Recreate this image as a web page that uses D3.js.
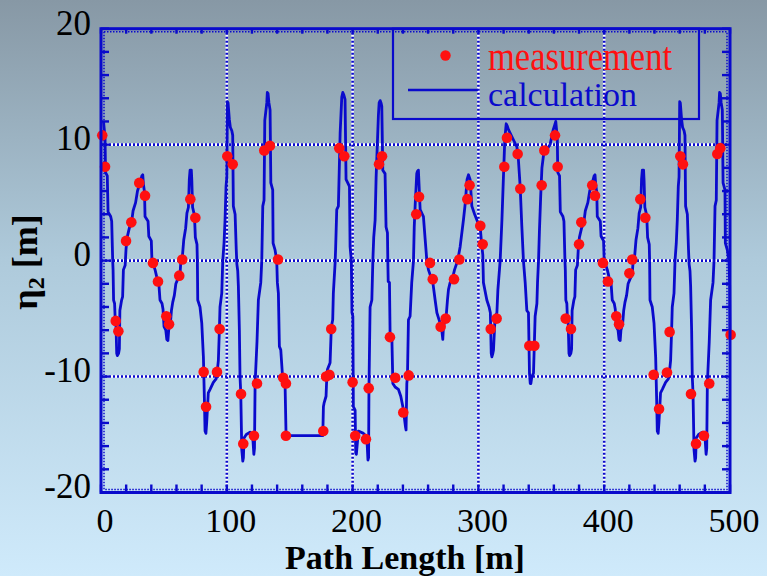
<!DOCTYPE html>
<html>
<head>
<meta charset="utf-8">
<script src="https://cdn.jsdelivr.net/npm/d3@7"></script>
<style>
  html, body { margin: 0; padding: 0; }
  body { width: 767px; height: 576px; overflow: hidden; }
  svg { display: block; }
</style>
</head>
<body>
<svg id="chart" width="767" height="576"></svg>
<script>
// ---------------- DATA ----------------
const xTicks = [0, 100, 200, 300, 400, 500];
const yTicks = [-20, -10, 0, 10, 20];
const xMinor = d3.range(0, 501, 20);
const yMinor = d3.range(-20, 21, 2);

const legendLabels = ["measurement", "calculation"];
const xTitle = "Path Length [m]";

// measurement (red dots)
const measS = [1.0,3.2,11.7,13.8,19.9,24.1,30.4,35.0,41.3,45.3,51.9,54.1,62.2,64.6,71.0,75.0,81.6,83.5,92.2,94.3,
  100.4,104.7,111.3,113.1,121.6,124.0,129.8,134.3,140.7,144.9,147.0,147.0,176.7,178.9,181.5,183.0,189.4,193.4,
  200.0,202.1,210.6,212.8,221.0,223.4,229.7,233.9,240.3,244.6,250.6,252.8,261.5,263.7,270.0,274.0,280.6,284.8,
  291.2,293.0,301.5,303.4,309.8,314.5,320.6,322.7,331.2,333.3,340.5,344.5,350.3,352.4,360.9,363.0,369.4,373.6,
  380.0,381.8,390.5,392.7,399.0,403.0,409.6,411.8,420.0,422.3,428.7,432.7,439.3,443.6,449.9,452.0,460.5,462.6,
  469.0,473.0,479.3,483.5,489.9,492.3,500.5];
const measEta = [10.8,8.1,-5.2,-6.1,1.7,3.3,6.7,5.6,-0.2,-1.8,-4.8,-5.5,-1.3,0.1,5.3,3.7,-9.6,-12.6,-9.6,-5.9,
  9.0,8.3,-11.5,-15.8,-15.1,-10.6,9.5,9.9,0.1,-10.1,-10.6,-15.1,-14.7,-10.0,-9.85,-5.9,9.7,9.0,
  -10.5,-15.1,-15.4,-11.0,8.3,9.0,-6.6,-10.1,-13.1,-9.9,4.0,5.5,-0.2,-1.6,-5.7,-5.0,-1.6,0.1,
  5.3,6.5,3.0,1.4,-5.9,-5.0,8.1,10.6,9.2,6.2,-7.35,-7.35,6.5,9.5,10.8,8.1,-5.0,-5.9,
  1.4,3.3,6.5,5.6,-0.2,-1.8,-4.8,-5.5,-1.1,0.1,5.3,3.7,-9.85,-12.8,-9.65,-6.15,9.0,8.3,
  -11.5,-15.8,-15.1,-10.6,9.2,9.7,-6.4];

// calculation (blue line)
const calcS = [2.0,3.2,3.6,5.0,5.6,7.7,8.5,9.3,9.6,10.0,10.8,11.2,11.8,12.5,13.0,14.0,14.6,15.0,16.4,17.2,17.8,19.2,19.9,20.8,22.5,24.3,25.5,27.5,29.0,31.0,32.5,33.2,33.7,34.6,35.0,37.4,38.0,40.0,40.5,41.5,
  43.0,44.3,46.0,46.9,48.5,49.3,50.1,51.5,52.3,53.2,53.8,55.2,56.0,57.0,58.3,59.5,61.0,62.8,63.5,64.8,65.8,67.3,68.3,69.5,70.2,70.8,71.8,72.2,72.8,74.3,75.0,76.3,76.6,76.9,78.7,80.1,81.4,82.2,82.7,83.4,84.0,85.3,86.7,89.3,91.5,92.0,93.3,94.1,94.6,96.0,96.8,97.8,98.6,99.4,100.0,100.3,100.5,101.0,102.0,102.8,104.0,104.7,105.2,106.6,107.5,108.0,108.7,109.2,110.0,110.5,111.1,111.9,112.7,113.2,113.7,115.5,118.5,120.2,120.8,121.5,122.0,122.5,124.0,125.1,127.0,127.8,128.6,129.6,130.2,131.8,132.2,132.8,133.5,134.4,135.0,136.5,136.8,138.4,139.7,140.2,141.0,141.8,142.9,144.5,146.3,147.1,147.5,
  176.3,176.8,177.3,178.9,179.5,180.0,182.1,183.1,184.2,184.7,186.1,186.5,187.4,188.7,190.1,191.4,192.2,193.0,194.0,194.8,197.5,198.0,199.0,199.5,200.2,200.6,202.0,202.5,203.0,204.6,208.6,211.3,212.2,212.7,213.0,213.9,215.3,216.1,216.8,217.9,218.7,220.5,221.1,221.9,222.6,223.2,224.0,225.8,226.6,227.7,228.0,228.3,229.3,229.8,231.2,232.0,233.8,236.4,238.3,240.3,242.0,242.5,243.1,243.6,244.4,245.7,247.0,248.4,249.0,249.7,251.0,251.5,252.3,253.7,256.3,257.7,259.0,260.3,263.8,265.6,267.0,269.0,270.5,271.7,272.2,274.4,275.4,276.2,277.5,279.5,281.0,283.5,285.5,288.1,289.5,291.0,292.1,293.4,294.8,297.0,299.5,301.5,302.5,303.5,304.0,306.7,308.5,309.5,310.2,310.7,311.5,312.0,313.3,314.7,315.5,317.3,318.7,319.9,321.0,322.1,323.0,323.9,327.9,330.6,331.8,333.2,334.5,335.8,337.2,338.5,339.8,340.6,341.2,341.7,342.5,343.8,345.1,346.5,347.0,347.8,348.5,349.5,350.5,352.0,354.5,357.0,359.5,361.0,
  361.5,362.7,363.1,364.5,365.1,367.2,368.0,368.8,369.1,369.5,370.3,370.7,371.3,372.0,372.5,373.5,374.1,374.5,375.9,376.7,377.3,378.7,379.4,380.3,382.0,383.8,385.0,387.0,388.5,390.5,392.0,392.7,393.2,394.1,394.5,396.9,397.5,399.5,400.0,401.0,
  402.5,403.8,405.5,406.4,408.0,408.8,409.6,411.0,411.8,412.7,413.3,414.7,415.5,416.5,417.8,419.0,420.5,422.3,423.0,424.3,425.3,426.8,427.8,429.0,429.7,430.3,431.3,431.7,432.3,433.8,434.5,435.8,436.1,436.4,438.2,439.6,440.9,441.7,442.2,442.9,443.5,444.8,446.2,448.8,451.0,451.5,452.8,453.6,454.1,455.5,456.3,457.3,458.1,458.9,459.5,459.8,460.0,460.5,461.5,462.3,463.5,464.2,464.7,466.1,467.0,467.5,468.2,468.7,469.5,470.0,470.6,471.4,472.2,472.7,473.2,475.0,478.0,479.7,480.3,481.0,481.5,482.0,483.5,484.6,486.5,487.3,488.1,489.1,489.7,491.3,491.7,492.3,493.0,493.9,494.5,496.0,496.3,497.9,499.2,499.7,500.0];
const calcEta = [12.0,10.6,7.6,7.3,4.2,3.8,3.4,0.0,-0.8,-3.4,-3.7,-4.8,-5.1,-8.0,-8.2,-8.0,-7.6,-4.3,-3.4,-3.1,-0.8,-0.4,1.0,2.0,2.8,3.3,4.3,5.0,6.0,6.7,7.3,7.4,6.6,5.9,3.8,3.4,2.1,1.7,0.0,-0.3,
  -0.8,-1.4,-2.0,-3.4,-3.7,-4.2,-5.7,-6.0,-6.8,-6.9,-6.0,-5.4,-4.3,-3.6,-3.0,-2.0,-1.6,-1.2,0.0,0.5,1.8,2.8,4.1,4.6,7.0,7.8,7.8,6.9,4.6,3.9,2.0,1.4,0.0,-3.4,-4.0,-5.4,-8.3,-12.0,-14.7,-14.9,-14.0,-11.4,-11.1,-10.5,-10.2,-10.0,-8.6,-6.0,-4.0,-2.8,0.0,1.5,3.5,6.4,7.2,11.0,13.7,13.6,12.2,11.5,11.2,10.8,4.7,4.0,1.0,-0.3,-0.9,-2.2,-6.0,-10.0,-11.4,-16.3,-17.3,-17.0,-15.3,-15.0,-14.8,-14.9,-15.5,-16.7,-16.2,-10.6,-7.0,-3.4,-1.9,0.0,4.7,5.2,12.1,13.6,14.5,14.4,13.6,13.0,6.7,6.1,1.5,0.9,0.0,-1.9,-2.8,-7.4,-7.7,-10.3,-10.6,-15.0,-15.1,
  -15.1,-12.6,-12.3,-11.7,-10.0,-9.4,-8.8,-5.7,-5.1,-2.8,-0.2,1.0,4.4,4.7,11.0,14.1,14.5,14.3,13.9,7.0,6.4,1.2,0.0,-4.5,-4.8,-12.6,-12.9,-16.6,-16.7,-14.7,-14.9,-15.2,-17.2,-17.0,-11.1,-4.0,-3.4,0.0,2.0,3.5,7.2,12.5,13.6,13.8,13.6,13.3,7.8,7.5,2.9,2.4,0.0,-1.8,-1.9,-6.3,-6.6,-10.6,-10.9,-11.1,-11.7,-12.8,-14.3,-14.6,-10.6,-10.0,-5.1,-4.8,-1.9,0.0,2.9,4.7,7.5,7.7,7.8,4.4,3.8,1.8,0.0,-0.8,-1.9,-3.4,-4.5,-5.2,-5.6,-6.8,-5.7,-4.8,-3.4,-2.5,-1.9,-1.5,-0.8,0.0,1.2,3.5,4.9,7.0,7.4,7.0,4.7,4.0,3.3,2.8,1.5,0.5,-1.9,-3.4,-4.0,-4.5,-8.0,-8.3,-8.0,-7.7,-4.8,-4.5,-2.5,0.0,3.5,7.2,10.5,11.8,11.6,11.3,10.4,9.8,8.7,6.4,3.0,0.0,-1.9,-4.3,-4.5,-9.7,-10.6,-10.6,-10.0,-9.7,-4.8,-3.7,-1.9,0.0,2.5,5.5,8.0,9.3,9.6,10.0,11.3,11.8,
  12.0,10.6,7.6,7.3,4.2,3.8,3.4,0.0,-0.8,-3.4,-3.7,-4.8,-5.1,-8.0,-8.2,-8.0,-7.6,-4.3,-3.4,-3.1,-0.8,-0.4,1.0,2.0,2.8,3.3,4.3,5.0,6.0,6.7,7.3,7.4,6.6,5.9,3.8,3.4,2.1,1.7,0.0,-0.3,
  -0.8,-1.4,-2.0,-3.4,-3.7,-4.2,-5.7,-6.0,-6.8,-6.9,-6.0,-5.4,-4.3,-3.6,-3.0,-2.0,-1.6,-1.2,0.0,0.5,1.8,2.8,4.1,4.6,7.0,7.8,7.8,6.9,4.6,3.9,2.0,1.4,0.0,-3.4,-4.0,-5.4,-8.3,-12.0,-14.7,-14.9,-14.0,-11.4,-11.1,-10.5,-10.2,-10.0,-8.6,-6.0,-4.0,-2.8,0.0,1.5,3.5,6.4,7.2,11.0,13.7,13.6,12.2,11.5,11.2,10.8,4.7,4.0,1.0,-0.3,-0.9,-2.2,-6.0,-10.0,-11.4,-16.3,-17.3,-17.0,-15.3,-15.0,-14.8,-14.9,-15.5,-16.7,-16.2,-10.6,-7.0,-3.4,-1.9,0.0,4.7,5.2,12.1,13.6,14.5,14.4,13.6,13.0,6.7,6.1,1.5,0.9,0.0,-1.9,-6.4];

// ---------------- DRAW ----------------
const W = 767, H = 576;
const svg = d3.select("#chart");
const BLUE = "#0a0acc";
const serif = "'Liberation Serif','Times New Roman',Times,serif";

const defs = svg.append("defs");
const grad = defs.append("linearGradient").attr("id", "bg").attr("x1", 0).attr("y1", 0).attr("x2", 0).attr("y2", 1);
grad.append("stop").attr("offset", "0%").attr("stop-color", "#8798a5");
grad.append("stop").attr("offset", "45%").attr("stop-color", "#aecadb");
grad.append("stop").attr("offset", "100%").attr("stop-color", "#cfeafb");
svg.append("rect").attr("width", W).attr("height", H).attr("fill", "url(#bg)");

const x = d3.scaleLinear().domain([0, 500]).range([101, 730]);
const y = d3.scaleLinear().domain([-20, 20]).range([492.5, 28.7]);
const [x0, x1] = x.range();
const [y0, y1] = y.range(); // y0 bottom, y1 top

// gridlines (dotted blue/white)
const grid = svg.append("g");
const gx = xTicks.filter(d => d > 0 && d < 500);
const gy = yTicks.filter(d => d > -20 && d < 20);
[["#ffffff", null], [BLUE, "2,2"]].forEach(([c, dash]) => {
  grid.selectAll(null).data(gx).enter().append("line")
    .attr("x1", d => x(d)).attr("x2", d => x(d)).attr("y1", y1).attr("y2", y0)
    .attr("stroke", c).attr("stroke-width", 2.6).attr("stroke-dasharray", dash);
  grid.selectAll(null).data(gy).enter().append("line")
    .attr("y1", d => y(d)).attr("y2", d => y(d)).attr("x1", x0).attr("x2", x1)
    .attr("stroke", c).attr("stroke-width", 2.6).attr("stroke-dasharray", dash);
});
// inner dotted line along frame edges
grid.append("rect").attr("x", x0 + 3).attr("y", y1 + 3).attr("width", x1 - x0 - 6).attr("height", y0 - y1 - 6)
  .attr("fill", "none").attr("stroke", BLUE).attr("stroke-width", 1.5).attr("stroke-dasharray", "1.5,1.5");

// minor ticks (inward, all sides)
const ticks = svg.append("g").attr("stroke", BLUE).attr("stroke-width", 2.4);
ticks.selectAll(null).data(xMinor).enter().append("line")
  .attr("x1", d => x(d)).attr("x2", d => x(d)).attr("y1", y0).attr("y2", y0 - 8);
ticks.selectAll(null).data(xMinor).enter().append("line")
  .attr("x1", d => x(d)).attr("x2", d => x(d)).attr("y1", y1).attr("y2", y1 + 5);
ticks.selectAll(null).data(yMinor).enter().append("line")
  .attr("y1", d => y(d)).attr("y2", d => y(d)).attr("x1", x0).attr("x2", x0 + 8);
ticks.selectAll(null).data(yMinor).enter().append("line")
  .attr("y1", d => y(d)).attr("y2", d => y(d)).attr("x1", x1).attr("x2", x1 - 8);

// legend box
const lg = svg.append("g");
lg.append("rect").attr("x", 393).attr("y", y1).attr("width", 306).attr("height", 119 - y1)
  .attr("fill", "none").attr("stroke", BLUE).attr("stroke-width", 2.2);

// calculation line
const calc = calcS.map((s, i) => [s, calcEta[i]]);
svg.append("path").datum(calc)
  .attr("d", d3.line().x(d => x(d[0])).y(d => y(d[1])))
  .attr("fill", "none").attr("stroke", BLUE).attr("stroke-width", 2.8).attr("stroke-linejoin", "round");

// measurement dots
svg.append("g").selectAll("circle").data(measS.map((s, i) => [s, measEta[i]])).enter().append("circle")
  .attr("cx", d => x(d[0])).attr("cy", d => y(d[1])).attr("r", 5.3).attr("fill", "#ff1010");

// frame
svg.append("rect").attr("x", x0).attr("y", y1).attr("width", x1 - x0).attr("height", y0 - y1)
  .attr("fill", "none").attr("stroke", BLUE).attr("stroke-width", 3);

// legend content
lg.append("circle").attr("cx", 445.5).attr("cy", 55.5).attr("r", 5.2).attr("fill", "#ff1010");
lg.append("line").attr("x1", 408).attr("x2", 478).attr("y1", 90).attr("y2", 90).attr("stroke", BLUE).attr("stroke-width", 2.6);
lg.append("text").attr("x", 488).attr("y", 70).text(legendLabels[0])
  .attr("font-family", serif).attr("font-size", 39).attr("fill", "#ff1010")
  .attr("textLength", 184).attr("lengthAdjust", "spacingAndGlyphs");
lg.append("text").attr("x", 488).attr("y", 106).text(legendLabels[1])
  .attr("font-family", serif).attr("font-size", 34).attr("fill", BLUE)
  .attr("textLength", 149).attr("lengthAdjust", "spacingAndGlyphs");

// tick labels
svg.append("g").selectAll("text").data(xTicks).enter().append("text")
  .attr("x", d => x(d) + 4).attr("y", 532).attr("text-anchor", "middle")
  .attr("font-family", serif).attr("font-size", 34).attr("fill", "#000").text(d => d);
svg.append("g").selectAll("text").data(yTicks).enter().append("text")
  .attr("x", 91).attr("y", d => y(d) + 5.8).attr("text-anchor", "end")
  .attr("font-family", serif).attr("font-size", 35).attr("fill", "#000").text(d => d);

// axis titles
svg.append("text").attr("x", 405).attr("y", 569).attr("text-anchor", "middle")
  .attr("font-family", serif).attr("font-size", 34).attr("font-weight", "bold").attr("fill", "#000").text(xTitle);
const yt = svg.append("text").attr("transform", "translate(37,262) rotate(-90)").attr("text-anchor", "middle")
  .attr("font-family", serif).attr("font-size", 36).attr("font-weight", "bold").attr("fill", "#000");
yt.append("tspan").text("η");
yt.append("tspan").attr("font-size", 24).attr("dy", 7).text("2");
yt.append("tspan").attr("dy", -7).text(" [m]");
</script>
</body>
</html>
